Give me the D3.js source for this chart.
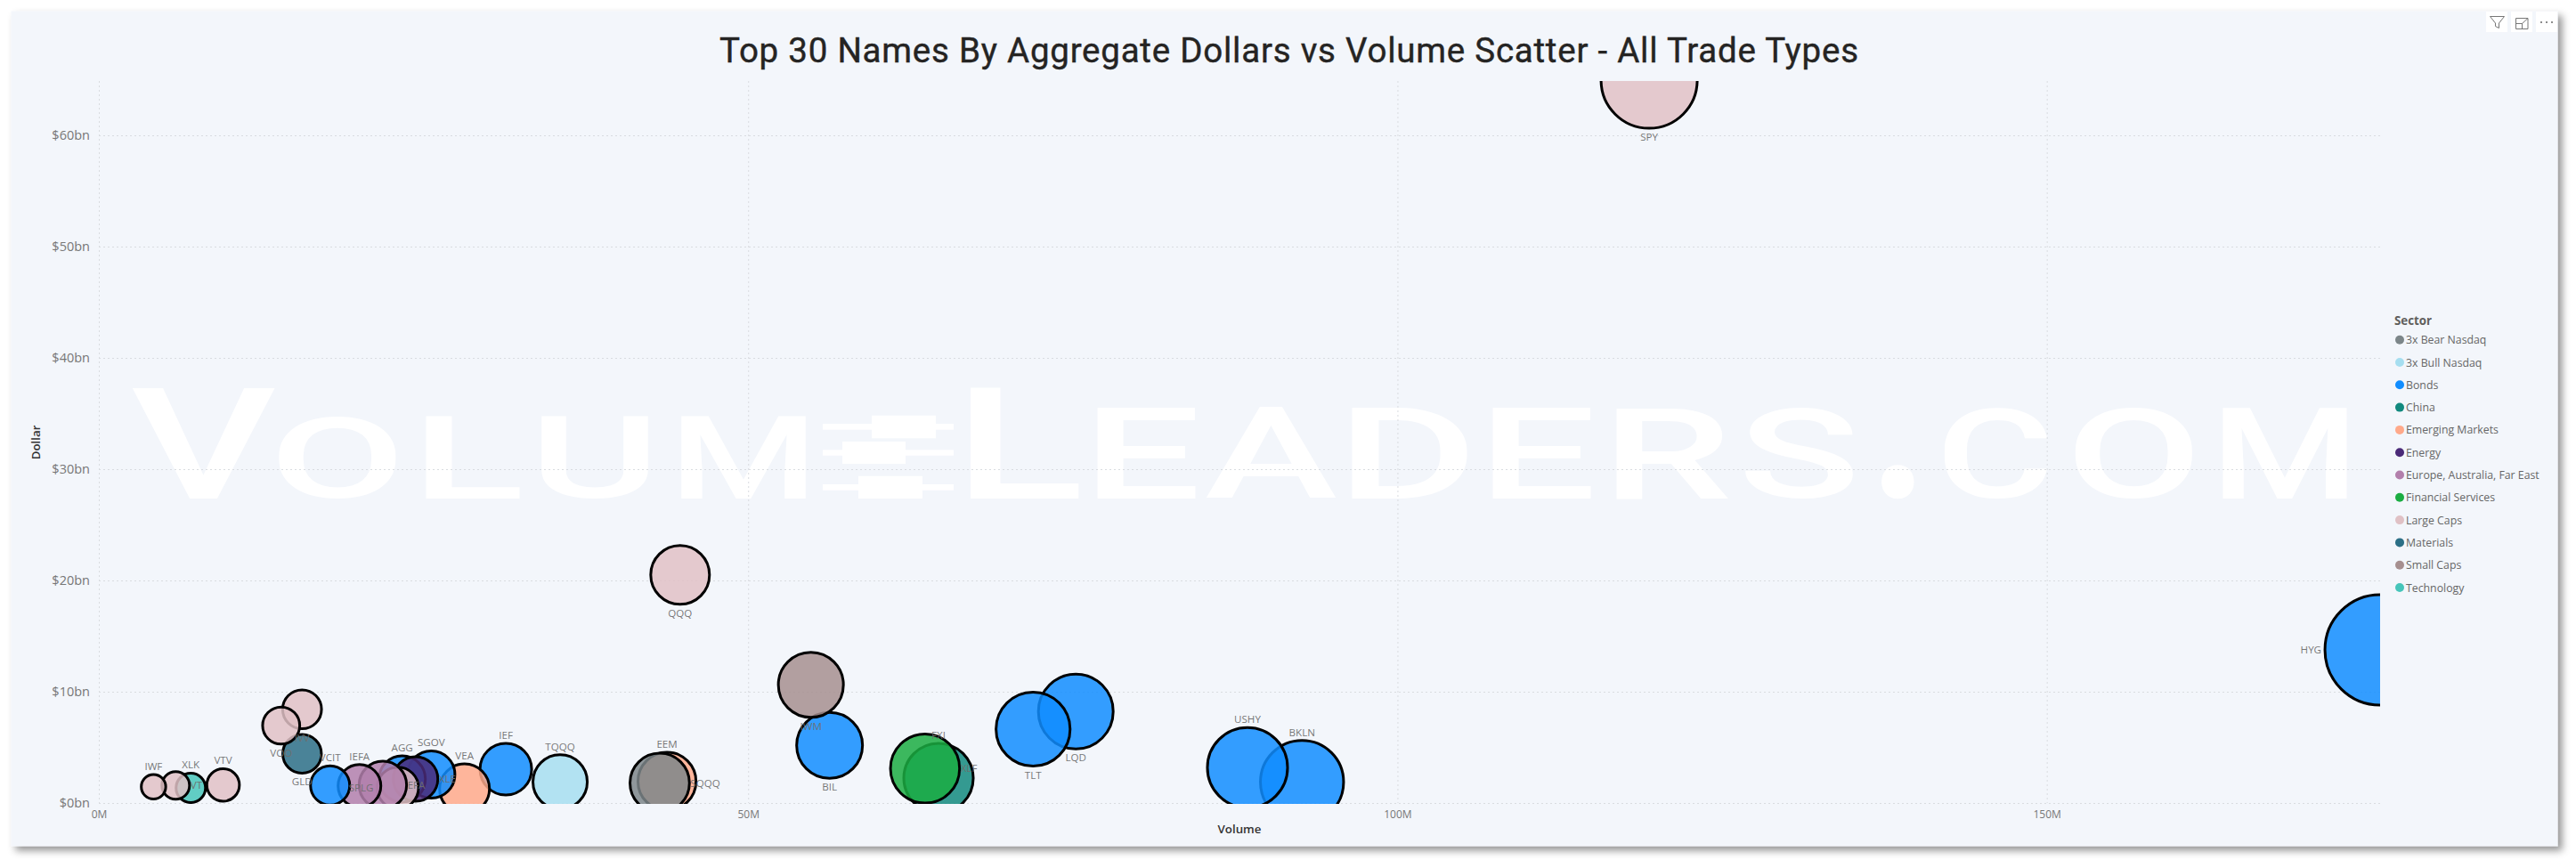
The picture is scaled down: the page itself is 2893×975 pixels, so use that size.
<!DOCTYPE html>
<html><head><meta charset="utf-8">
<script src="https://cdn.jsdelivr.net/npm/d3@7"></script>
<style>
html,body{margin:0;padding:0;background:#fff;overflow:hidden}
svg{display:block}
</style></head><body>
<svg id="c" width="2893" height="975"></svg>
<script>
const names   = ["HYG","SPY","BKLN","USHY","LQD","TLT","FXI","XLF","BIL","IWM","QQQ","EEM","SQQQ","TQQQ","IEF","VEA","SGOV","AGG","XLE","SPLG","EFA","IEFA","VCIT","GLD","IVV","VOO","VTV","XLK","VT","IWF"];
const sectors = ["Bonds","Large Caps","Bonds","Bonds","Bonds","Bonds","China","Financial Services","Bonds","Small Caps","Large Caps","Emerging Markets","3x Bear Nasdaq","3x Bull Nasdaq","Bonds","Emerging Markets","Bonds","Bonds","Energy","Large Caps","Europe, Australia, Far East","Europe, Australia, Far East","Bonds","Materials","Large Caps","Large Caps","Large Caps","Technology","Large Caps","Large Caps"];
const volumeM = [175.67,119.38,92.65,88.45,75.23,71.94,64.66,63.62,56.27,54.83,44.76,43.75,43.19,35.52,31.34,28.16,25.6,23.36,24.39,23.02,21.87,20.07,17.81,15.65,15.65,14.04,9.57,7.08,5.92,4.21];
const dollarBn = [13.76,64.96,1.89,3.18,8.22,6.64,2.24,3.1,5.18,10.62,20.5,1.95,1.8,1.9,3.04,1.28,2.56,2.16,2.16,1.36,1.62,1.54,1.58,4.42,8.42,6.96,1.62,1.36,1.58,1.46];
const bubbleSize = [100,75.9,56.7,52.7,45.9,45,39.6,39.2,35.6,34.7,28.3,27.6,29,24.2,21.9,20.4,18.3,17.6,16.3,14.1,18.5,15,12.6,12.25,12.4,11.3,8.7,7.1,6.25,4.9];
const labelSides = ["left","below","above","above","below","below","above","right","below","below","below","above","right","above","above","above","above","above","right","left","right","above","above","below","below","below","above","above","right","above"];
const legendSectors = ["3x Bear Nasdaq","3x Bull Nasdaq","Bonds","China","Emerging Markets","Energy","Europe, Australia, Far East","Financial Services","Large Caps","Materials","Small Caps","Technology"];
const legendColors = ["#7C8689","#A6DEF0","#118DFF","#12897E","#FFA98A","#4A2A78","#B27FAB","#1BAD42","#E0C1C5","#2B6F86","#A68F8F","#46C5BA"];
const xTicks = [0,50,100,150];
const yTicks = [0,10,20,30,40,50,60];
const titleText = "Top 30 Names By Aggregate Dollars vs Volume Scatter - All Trade Types";

const svg = d3.select("#c");
const defs = svg.append("defs");
const f = defs.append("filter").attr("id","sh").attr("x","-2%").attr("y","-5%").attr("width","104%").attr("height","110%");
f.append("feDropShadow").attr("dx",5).attr("dy",5).attr("stdDeviation",4.5).attr("flood-color","#000").attr("flood-opacity",0.42);
svg.append("rect").attr("x",12.5).attr("y",12.5).attr("width",2860).attr("height",938).attr("fill","#F3F6FB").attr("filter","url(#sh)");

const W = {l:111,r:2673,t:91,b:903};
const x = d3.scaleLinear().domain([0,175.68]).range([111,2673.2]);
const y = d3.scaleLinear().domain([0,60]).range([902,152]);
const r = d3.scaleSqrt().domain([0,100]).range([0,62]);
const color = d3.scaleOrdinal().domain(legendSectors).range(legendColors);
const FONT = "'Open Sans','Noto Sans',sans-serif";

// watermark: each letter is fitted to its ink box
const wmFont = "500 200px Roboto";
const ctx = document.createElement("canvas").getContext("2d");
ctx.font = wmFont;
const wm = svg.append("g").attr("fill","#fff").attr("font-family","Roboto,sans-serif").attr("font-weight",500).attr("font-size",200);
const wmLetters = [["V",148,309,434.7],["O",312.4,444.4,466.7],["L",478,584,466.7],["U",607.7,728,466.7],["M",765,905.5,466.7],
 ["L",1089.6,1212,434.7],["E",1232,1343,457.3],["A",1354,1501,457.3],["D",1518,1648,457.3],["E",1676,1787,457.3],["R",1815,1941,457.3],["S",1960,2081,457.3],[".",2113,2150,521.7],["C",2183,2299,457.3],["O",2330,2462,457.3],["M",2496,2636,457.3]];
wmLetters.forEach(([t,a,b,top])=>{
  const m = ctx.measureText(t);
  const inkW = m.actualBoundingBoxRight + m.actualBoundingBoxLeft;
  const inkH = m.actualBoundingBoxAscent + m.actualBoundingBoxDescent;
  const sx = (b-a)/inkW, sy = (560-top)/inkH;
  wm.append("text")
    .attr("transform",`translate(${a+m.actualBoundingBoxLeft*sx},${560-m.actualBoundingBoxDescent*sy}) scale(${sx},${sy})`)
    .text(t);
});
// candlestick mark inside the watermark
const candles = [[979,1051,466.7,492.3,476,482.7],[946,1017,496,521,505.3,511.7],[964,1036,534.7,560,544,550.7]];
const cg = svg.append("g").attr("fill","#fff");
candles.forEach(([a,b,t,bt,wt,wb])=>{
  cg.append("rect").attr("x",a).attr("y",t).attr("width",b-a).attr("height",bt-t);
  cg.append("rect").attr("x",924).attr("y",wt).attr("width",147).attr("height",wb-wt);
});

// grid
const grid = svg.append("g").attr("stroke","#D9DCE0").attr("stroke-width",1).attr("stroke-dasharray","2 3").attr("fill","none");
grid.selectAll("line.h").data(yTicks).join("line").attr("x1",111).attr("x2",2673).attr("y1",d=>y(d)+.5).attr("y2",d=>y(d)+.5);
grid.selectAll("line.v").data(xTicks).join("line").attr("y1",91).attr("y2",902).attr("x1",d=>x(d)+.5).attr("x2",d=>x(d)+.5);

// axes
const xAxis = d3.axisBottom(x).tickValues(xTicks).tickSize(0).tickPadding(0).tickFormat(d=>d+"M");
const yAxis = d3.axisLeft(y).tickValues(yTicks).tickSize(0).tickPadding(0).tickFormat(d=>"$"+d+"bn");
const gx = svg.append("g").attr("transform","translate(0,908)").call(xAxis);
const gy = svg.append("g").attr("transform","translate(101,0)").call(yAxis);
gx.select(".domain").remove();gy.select(".domain").remove();
gx.selectAll("text").attr("font-family",FONT).attr("font-size",12).attr("fill","#777").attr("dy","0.9em");
gy.selectAll("text").attr("font-family",FONT).attr("font-size",14.5).attr("fill","#777");

svg.append("text").attr("x",1392).attr("y",936).attr("text-anchor","middle").attr("font-family",FONT).attr("font-size",13.3).attr("font-weight",600).attr("fill","#333").text("Volume");
svg.append("text").attr("transform","translate(45,497) rotate(-90)").attr("text-anchor","middle").attr("font-family",FONT).attr("font-size",13.3).attr("font-weight",600).attr("fill","#333").text("Dollar");

// bubbles
defs.append("clipPath").attr("id","plot").append("rect").attr("x",W.l-20).attr("y",W.t).attr("width",W.r-W.l+20).attr("height",W.b-W.t);
const rows = names.map((n,i)=>({n,s:sectors[i],v:volumeM[i],d:dollarBn[i],z:bubbleSize[i],side:labelSides[i]}));
svg.append("g").attr("clip-path","url(#plot)").selectAll("circle").data(rows).join("circle")
  .attr("cx",d=>x(d.v)).attr("cy",d=>y(d.d)).attr("r",d=>r(d.z))
  .attr("fill",d=>color(d.s)).attr("fill-opacity",.85).attr("stroke","#000").attr("stroke-width",3);

// labels
svg.append("g").selectAll("text").data(rows).join("text")
  .attr("font-family",FONT).attr("font-size",11.6).attr("fill","#6e6e6e").attr("fill-opacity",.95)
  .attr("x",d=>{const c=x(d.v),q=r(d.z);return d.side==="left"?c-q-4:d.side==="right"?c+q+1:c;})
  .attr("y",d=>{const c=y(d.d),q=r(d.z);return d.side==="above"?c-q-5:d.side==="below"?c+q+14:c+4;})
  .attr("text-anchor",d=>d.side==="left"?"end":d.side==="right"?"start":"middle")
  .text(d=>d.n);

// title
svg.append("text").attr("x",808).attr("y",69.5).attr("font-family","'Liberation Sans Narrow',Roboto,sans-serif").attr("font-size",38.5).attr("fill","#252423").attr("stroke","#252423").attr("stroke-width",.4).attr("textLength",1279).attr("lengthAdjust","spacing").text(titleText);

// legend
svg.append("text").attr("x",2689).attr("y",365).attr("font-family",FONT).attr("font-size",13.3).attr("font-weight",700).attr("fill","#605E5C").text("Sector");
const lg = svg.append("g").selectAll("g").data(legendSectors).join("g").attr("transform",(d,i)=>`translate(2695,${381.7+i*25.3})`);
lg.append("circle").attr("r",5).attr("fill",d=>color(d));
lg.append("text").attr("x",7).attr("y",4.5).attr("font-family",FONT).attr("font-size",12.3).attr("fill","#666").text(d=>d);

// visual header icons
const ic = svg.append("g");
ic.selectAll("rect").data([2792,2820,2848]).join("rect").attr("x",d=>d).attr("y",13).attr("width",24).attr("height",23).attr("fill","#fff");
ic.append("path").attr("d","M2796.500 18.500h16l-6 7.500v5.500l-4-2v-3.500z").attr("fill","none").attr("stroke","#777");
ic.append("path").attr("d","M2836 20.500h-10.500v12h13.500v-8M2832 27l7-6.500M2835 20.500h4v4M2825.500 26.500h7v6").attr("fill","none").attr("stroke","#777");
ic.selectAll("circle").data([2854,2860,2866]).join("circle").attr("cx",d=>d).attr("cy",25).attr("r",1).attr("fill","#666");
</script></body></html>
